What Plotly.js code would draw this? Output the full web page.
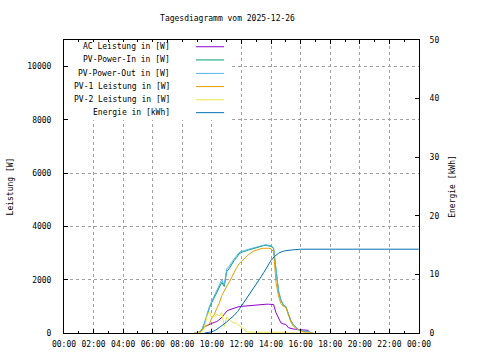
<!DOCTYPE html>
<html>
<head>
<meta charset="utf-8">
<script src="https://cdn.plot.ly/plotly-3.0.1.min.js"></script>
<style>html,body{margin:0;padding:0;background:#fff;}#chart{width:480px;height:360px;}</style>
</head>
<body>
<div id="chart"></div>
<script>
const DAY = '2025-12-26';
const titleText = 'Tagesdiagramm vom 2025-12-26';
const seriesNames = ['AC Leistung in [W]', 'PV-Power-In in [W]', 'PV-Power-Out in [W]', 'PV-1 Leistung in [W]', 'PV-2 Leistung in [W]', 'Energie in [kWh]'];
const seriesColors = ['#9400d3', '#009e73', '#56b4e9', '#e69f00', '#f0e442', '#0072b2'];

// shared 10-minute time grid for power series
const powerTimes = ['08:50','09:00','09:10','09:20','09:30','09:40','09:50',
  '10:00','10:10','10:20','10:30','10:40','10:50',
  '11:00','11:10','11:20','11:30','11:40','11:50',
  '12:00','12:10','12:20','12:30','12:40','12:50',
  '13:00','13:10','13:20','13:30','13:40','13:50',
  '14:00','14:10','14:20','14:30','14:40','14:50',
  '15:00','15:10','15:20','15:30','15:40','15:50',
  '16:00','16:10','16:20','16:30','16:40','16:50'];

const acPower = [0,0,20,100,230,280,330,
  370,400,430,500,580,700,
  820,870,900,930,970,990,
  1000,1010,1020,1030,1040,1050,
  1060,1070,1070,1080,1080,1080,
  1080,1070,760,560,380,340,
  320,200,170,150,140,130,
  120,110,110,100,0,0];

const pvPowerIn = [0,0,40,120,350,650,950,
  1150,1330,1550,1750,1900,1750,
  2300,2420,2600,2720,2830,2970,
  3030,3050,3090,3120,3150,3180,
  3200,3240,3260,3280,3290,3270,
  3250,3170,2270,1570,1220,1040,
  980,680,460,310,200,130,
  100,70,50,30,10,0];

const pvPowerOut = [0,10,50,150,400,700,1000,
  1200,1380,1600,1800,2000,1800,
  2400,2500,2650,2780,2880,3020,
  3070,3080,3120,3150,3170,3200,
  3230,3270,3290,3300,3310,3290,
  3280,3200,2300,1600,1250,1060,
  1000,700,480,330,220,140,
  110,80,60,40,20,0];

const pv1Power = [0,0,10,100,240,280,350,
  570,700,930,1120,1400,1600,
  1760,1900,2100,2300,2450,2600,
  2700,2790,2870,2950,3020,3080,
  3110,3150,3170,3180,3190,3180,
  3160,3050,1900,1380,1100,1000,
  960,650,420,260,170,110,
  80,40,20,0,0,0];

const pv2Power = [0,0,10,40,200,640,800,
  550,640,700,640,760,250,
  600,510,420,380,360,280,
  220,150,40,30,30,30,
  30,30,30,30,30,30,
  30,30,30,30,30,30,
  30,0,0,0,0,0,
  0,0,0,0,0,0];

// energy (kWh), right axis
const energyTimes = ['09:30','09:50','10:00','10:15','10:30','10:45','11:00','11:15','11:30','11:45',
  '12:00','12:15','12:30','12:45','13:00','13:15','13:30','13:45','14:00','14:15','14:30','14:45',
  '15:00','15:30','16:00','23:59'];
const energy = [0,0.05,0.2,0.5,0.9,1.4,1.9,2.4,3.0,3.7,
  4.6,5.5,6.4,7.3,8.3,9.3,10.3,11.3,12.4,13.1,13.6,13.9,
  14.05,14.2,14.3,14.3];

const yTicks = [0,2000,4000,6000,8000,10000];
const y2Ticks = [0,10,20,30,40,50];

const full = t => DAY + ' ' + t;
const px = powerTimes.map(full);
const powerSeries = [acPower, pvPowerIn, pvPowerOut, pv1Power, pv2Power];

const traces = powerSeries.map((vals, i) => ({
  type: 'scatter', mode: 'lines', x: px, y: vals, name: seriesNames[i],
  line: {color: seriesColors[i], width: 1}, yaxis: 'y', showlegend: false
}));
traces.push({
  type: 'scatter', mode: 'lines', x: energyTimes.map(full), y: energy, name: seriesNames[5],
  line: {color: seriesColors[5], width: 1}, yaxis: 'y2', showlegend: false
});

const FONT = 'DejaVu Sans Mono';
const font = {family: FONT, size: 8, color: '#000'};

// legend (gnuplot style: text right-aligned, sample line to the right)
const legendRows = [0.977, 0.932, 0.886, 0.841, 0.796, 0.752];
const annotations = seriesNames.map((n, i) => ({
  xref: 'paper', yref: 'paper', x: 0.3042, y: legendRows[i], xanchor: 'right', yanchor: 'middle',
  text: n, showarrow: false, font: font
}));
const shapes = [{
  type: 'rect', xref: 'paper', yref: 'paper', x0: 0.012, x1: 0.47, y0: 0.727, y1: 0.993,
  fillcolor: '#fff', line: {width: 0}, layer: 'above'
}].concat(seriesNames.map((n, i) => ({
  type: 'line', xref: 'paper', yref: 'paper', x0: 0.372, x1: 0.451, y0: legendRows[i], y1: legendRows[i],
  line: {color: seriesColors[i], width: 1}, layer: 'above'
})));

const layout = {
  width: 480, height: 360,
  margin: {l: 64, r: 61, t: 40, b: 27, pad: 0},
  paper_bgcolor: '#fff', plot_bgcolor: '#fff',
  font: font,
  showlegend: false,
  title: {text: titleText, font: font, xref: 'container', x: 0.474, xanchor: 'center', yref: 'container', y: 0.95, yanchor: 'middle'},
  xaxis: {
    type: 'date', range: [full('00:00'), '2025-12-27 00:00'],
    dtick: 7200000, tick0: full('00:00'), tickformat: '%H:%M',
    ticks: 'inside', ticklen: 4, tickcolor: '#000', tickwidth: 1,
    minor: {dtick: 3600000, ticks: 'inside', ticklen: 2, tickcolor: '#000', showgrid: false},
    showline: true, linecolor: '#000', linewidth: 1, mirror: 'ticks',
    showgrid: true, gridcolor: '#a0a0a0', griddash: '3px,3px', gridwidth: 1,
    zeroline: false, tickfont: font, ticklabelstandoff: 3, fixedrange: true
  },
  yaxis: {
    range: [0, 11000], tickvals: yTicks, ticktext: yTicks.map(String),
    ticks: 'inside', ticklen: 4, tickcolor: '#000',
    showline: true, linecolor: '#000', linewidth: 1,
    showgrid: true, gridcolor: '#a0a0a0', griddash: '3px,3px', gridwidth: 1,
    zeroline: false, tickfont: font, ticklabelstandoff: 10,
    title: {text: 'Leistung [W]', font: font, standoff: 12}
  },
  yaxis2: {
    overlaying: 'y', side: 'right', range: [0, 50], tickvals: y2Ticks, ticktext: y2Ticks.map(String),
    ticks: 'inside', ticklen: 4, tickcolor: '#000',
    showline: true, linecolor: '#000', linewidth: 1,
    showgrid: false, zeroline: false, tickfont: font, ticklabelstandoff: 8,
    title: {text: 'Energie [kWh]', font: font, standoff: 10}
  },
  annotations: annotations,
  shapes: shapes
};

Plotly.newPlot('chart', traces, layout, {staticPlot: true, displayModeBar: false});
</script>
</body>
</html>
